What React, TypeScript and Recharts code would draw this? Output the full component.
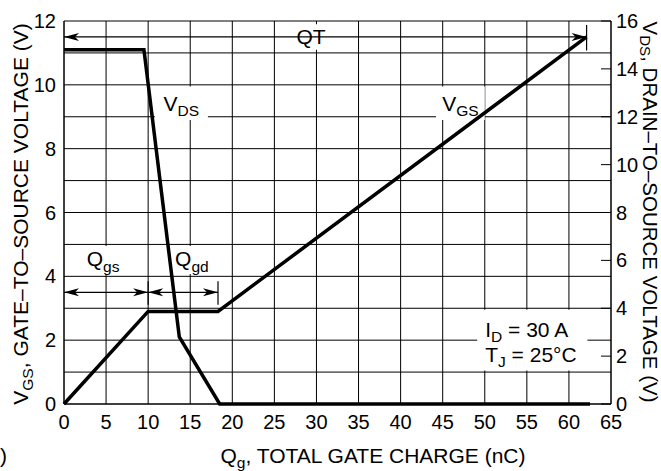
import React from 'react';
import { LineChart, Line, XAxis, YAxis, CartesianGrid, ReferenceLine, ReferenceArea } from 'recharts';

const FONT = '"Liberation Sans", Arial, Helvetica, sans-serif';

// axis ticks
const chargeTicks = [0, 5, 10, 15, 20, 25, 30, 35, 40, 45, 50, 55, 60, 65];
const vgsTicks = [0, 1, 2, 3, 4, 5, 6, 7, 8, 9, 10, 11, 12];
const vdsTicks = [0, 2, 4, 6, 8, 10, 12, 14, 16];

// V_GS curve (left axis)
const vgsCharge = [0, 10, 18.3, 62.1];
const vgsVolts = [0, 2.9, 2.9, 11.5];

// V_DS curve (right axis)
const vdsCharge = [0, 9.5, 13.7, 18.5, 62.5];
const vdsVolts = [14.8, 14.8, 2.8, 0, 0];

// charge intervals marked with dimension arrows
const qgsRange = [0, 10];
const qgdRange = [10, 18.3];
const qtRange = [0, 62.1];
const qgsLevel = 3.5;
const qtLevel = 11.5;

const vgsData = vgsCharge.map((q, i) => ({ q, v: vgsVolts[i] }));
const vdsData = vdsCharge.map((q, i) => ({ q, v: vdsVolts[i] }));

type Part = [string, boolean?];

const Rich = ({ x, y, anchor = 'start', parts, size = 21, drop = 0.26, transform }: any) => (
  <text x={x} y={y} textAnchor={anchor} fontSize={size} fontFamily={FONT} fill="#000" transform={transform}>
    {parts.map(([s, sub]: Part, i: number) => {
      const prevSub = i > 0 && parts[i - 1][1];
      const shift = size * drop;
      const dy = sub ? shift : prevSub ? -shift : 0;
      return (
        <tspan key={i} dy={dy} fontSize={sub ? size * 0.74 : size}>
          {s}
        </tspan>
      );
    })}
  </text>
);

// arrowhead path, dir = -1 points left, 1 points right
const arrowHead = (tip: number, y: number, dir: number) => {
  const L = 15;
  const W = 4;
  const N = 11;
  return `M${tip},${y} L${tip - dir * L},${y - W} L${tip - dir * N},${y} L${tip - dir * L},${y + W} Z`;
};

const dimShape = (tickHalf: number) => (props: any) => {
  const { x1, y1, x2 } = props;
  return (
    <g>
      <line x1={x1} y1={y1} x2={x2} y2={y1} stroke="#000" strokeWidth={1.2} />
      <path d={arrowHead(x1, y1, -1)} fill="#000" />
      <path d={arrowHead(x2, y1, 1)} fill="#000" />
      {tickHalf > 0 && (
        <line x1={x2} x2={x2} y1={y1 - tickHalf} y2={y1 + tickHalf + 1.5} stroke="#000" strokeWidth={1.2} />
      )}
    </g>
  );
};

const centered = (parts: Part[], down = 7.5) => (props: any) => {
  const vb = props.viewBox;
  return <Rich x={vb.x + vb.width / 2} y={vb.y + vb.height / 2 + down} anchor="middle" parts={parts} />;
};

const conditionsLabel = (props: any) => {
  const vb = props.viewBox;
  return (
    <g>
      <Rich x={vb.x + 8} y={vb.y + 27} parts={[['I'], ['D', true], [' = 30 A']]} />
      <Rich x={vb.x + 8} y={vb.y + 52} parts={[['T'], ['J', true], [' = 25°C']]} />
    </g>
  );
};

const RightTick = (props: any) => {
  const { x, y, payload } = props;
  const axisX = x - 5;
  return (
    <g>
      <line x1={axisX - 10} x2={axisX} y1={y} y2={y} stroke="#000" strokeWidth={1} />
      <text x={x} y={y} dy="0.355em" textAnchor="start" fontSize={20} fontFamily={FONT} fill="#000">
        {payload.value}
      </text>
    </g>
  );
};

const leftTitle = () => (
  <Rich
    x={28}
    y={214}
    anchor="middle"
    transform="rotate(-90 28 214)"
    parts={[['V'], ['GS', true], [', GATE–TO–SOURCE VOLTAGE (V)']]}
  />
);

const rightTitle = () => (
  <Rich
    x={643}
    y={212}
    anchor="middle"
    size={20.5}
    drop={0.17}
    transform="rotate(90 643 212)"
    parts={[['V'], ['DS', true], [', DRAIN–TO–SOURCE VOLTAGE (V)']]}
  />
);

const bottomTitle = () => (
  <g>
    <Rich x={373} y={463} anchor="middle" parts={[['Q'], ['g', true], [', TOTAL GATE CHARGE (nC)']]} />
    <text x={0} y={463} fontSize={21} fontFamily={FONT} fill="#000">)</text>
  </g>
);

const tickStyle = { fill: '#000', fontSize: 20, fontFamily: FONT };

export default function App() {
  return (
    <div style={{ position: 'absolute', left: 0, top: 0, width: 661, height: 471, background: '#fff' }}>
      <LineChart width={661} height={471} margin={{ top: 21, right: 10, bottom: 37, left: 24 }} style={{ fontFamily: FONT }}>
        <CartesianGrid yAxisId="left" stroke="#000" strokeWidth={1} />
        <XAxis
          dataKey="q"
          type="number"
          domain={[0, 65]}
          ticks={chargeTicks}
          interval={0}
          height={30}
          tickLine={false}
          tickSize={0}
          tickMargin={11}
          axisLine={{ stroke: '#000' }}
          tick={tickStyle}
          label={bottomTitle}
        />
        <YAxis
          yAxisId="left"
          type="number"
          domain={[0, 12]}
          ticks={vgsTicks}
          interval={0}
          width={40}
          tickLine={false}
          tickSize={0}
          tickMargin={8}
          tickFormatter={(v: number) => (v % 2 === 0 ? String(v) : '')}
          axisLine={{ stroke: '#000' }}
          tick={tickStyle}
          label={leftTitle}
        />
        <YAxis
          yAxisId="right"
          orientation="right"
          type="number"
          domain={[0, 16]}
          ticks={vdsTicks}
          interval={0}
          width={40}
          tickLine={false}
          tickSize={0}
          tickMargin={5}
          axisLine={{ stroke: '#000' }}
          tick={<RightTick />}
          label={rightTitle}
        />

        <ReferenceArea yAxisId="left" x1={10.8} x2={17.1} y1={8.9} y2={9.95} fill="#fff" fillOpacity={1} stroke="none" label={centered([['V'], ['DS', true]])} />
        <ReferenceArea yAxisId="left" x1={44.2} x2={50.0} y1={8.9} y2={9.95} fill="#fff" fillOpacity={1} stroke="none" label={centered([['V'], ['GS', true]])} />
        <ReferenceArea yAxisId="left" x1={27.1} x2={31.6} y1={11.1} y2={11.9} fill="#fff" fillOpacity={1} stroke="none" label={centered([['QT']])} />
        <ReferenceArea yAxisId="left" x1={2.1} x2={7.2} y1={4.07} y2={4.95} fill="#fff" fillOpacity={1} stroke="none" label={centered([['Q'], ['gs', true]], 6)} />
        <ReferenceArea yAxisId="left" x1={12.6} x2={17.8} y1={4.07} y2={4.95} fill="#fff" fillOpacity={1} stroke="none" label={centered([['Q'], ['gd', true]], 6)} />
        <ReferenceArea yAxisId="left" x1={49.1} x2={62.2} y1={1.05} y2={2.95} fill="#fff" fillOpacity={1} stroke="none" label={conditionsLabel} />

        <Line data={vgsData} dataKey="v" yAxisId="left" type="linear" stroke="#000" strokeWidth={3.5} dot={false} activeDot={false} isAnimationActive={false} />
        <Line data={vdsData} dataKey="v" yAxisId="right" type="linear" stroke="#000" strokeWidth={3.5} dot={false} activeDot={false} isAnimationActive={false} />

        <ReferenceLine yAxisId="left" segment={[{ x: qgsRange[0], y: qgsLevel }, { x: qgsRange[1], y: qgsLevel }]} shape={dimShape(11)} />
        <ReferenceLine yAxisId="left" segment={[{ x: qgdRange[0], y: qgsLevel }, { x: qgdRange[1], y: qgsLevel }]} shape={dimShape(11)} />
        <ReferenceLine yAxisId="left" segment={[{ x: qtRange[0], y: qtLevel }, { x: qtRange[1], y: qtLevel }]} shape={dimShape(12)} />
      </LineChart>
    </div>
  );
}
